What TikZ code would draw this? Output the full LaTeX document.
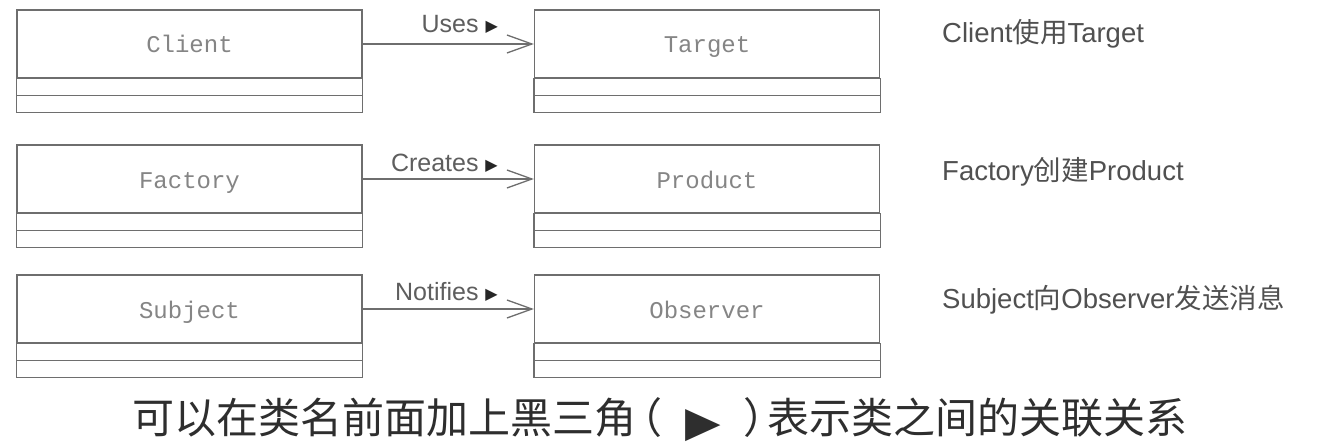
\documentclass[tikz,border=0pt]{standalone}
\usepackage{fontspec}
\setmainfont{Liberation Sans}
\newfontfamily\monof{Liberation Mono}
\newfontfamily\cjk{Noto Sans CJK SC}
\newfontfamily\symf{DejaVu Sans}
\usetikzlibrary{arrows.meta}
\definecolor{linec}{HTML}{6E6E6E}
\definecolor{namec}{HTML}{858585}
\definecolor{labc}{HTML}{5E5E5E}
\definecolor{rtc}{HTML}{505050}
\definecolor{capc}{HTML}{2E2E2E}
\newcommand{\tri}{{\symf\fontsize{16}{16}\selectfont\color{black!85}\raisebox{1pt}{▶}}}
\begin{document}
\begin{tikzpicture}[x=1pt,y=-1pt,
  boxline/.style={draw=linec, line width=1.3pt},
  classbox/.style={boxline, minimum width=345pt, minimum height=68pt, inner sep=0pt,
    text height=20pt, text depth=2pt,
    font=\monof\fontsize{24}{24}\selectfont, text=namec},
  assoc/.style={draw=linec, line width=1.3pt,
    -{Straight Barb[length=25pt,width=18pt,line width=1.3pt]}},
  lab/.style={anchor=base east, inner sep=0pt, text=labc, font=\fontsize{25}{25}\selectfont},
  rt/.style={anchor=base west, inner sep=0pt, text=rtc, font=\fontsize{27.5}{27.5}\selectfont},
  captxt/.style={anchor=base, inner sep=0pt, text=capc, font=\cjk\fontsize{42}{42}\selectfont}]
\useasboundingbox (0,0) rectangle (1320,444);
\fill[white] (0,0) rectangle (1320,444);

% row 1
\node[classbox] (client) at (189.5,44) {Client};
\node[classbox] (target) at (707,44) {Target};
% row 2
\node[classbox] (factory) at (189.5,179) {Factory};
\node[classbox] (product) at (707,179) {Product};
% row 3
\node[classbox] (subject) at (189.5,309) {Subject};
\node[classbox] (observer) at (707,309) {Observer};

\foreach \n in {client,target,factory,product,subject,observer}{
  \draw[boxline] (\n.south west) rectangle ([yshift=-34pt]\n.south east);
  \draw[boxline] ([yshift=-17pt]\n.south west) -- ([yshift=-17pt]\n.south east);
}

\draw[assoc] (client.east) -- (target.west);
\draw[assoc] (factory.east) -- (product.west);
\draw[assoc] (subject.east) -- (observer.west);

\node[lab] (uses) at (498,33) {Uses \tri};
\node[lab] (creates) at (498,171) {Creates \tri};
\node[lab] (notifies) at (498,300) {Notifies \tri};

\node[rt] (r1) at (942,43) {Client{\cjk 使用}Target};
\node[rt] (r2) at (942,180) {Factory{\cjk 创建}Product};
\node[rt] (r3) at (942,308) {Subject{\cjk 向}Observer{\cjk 发送消息}};

\node[captxt] (caption) at (660,433) {可以在类名前面加上黑三角\hspace{-17pt}（\hspace{24pt}\raisebox{-3pt}{\symf\fontsize{42}{42}\selectfont\scalebox{1.1}[1]{▶}}\hspace{21.5pt}）\hspace{-18pt}表示类之间的关联关系};
\end{tikzpicture}
\end{document}
